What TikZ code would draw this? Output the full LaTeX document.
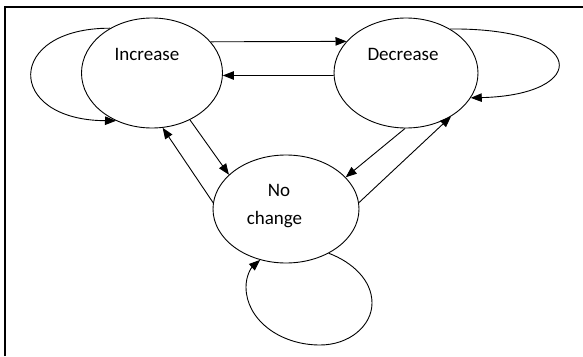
\documentclass[tikz,border=0pt]{standalone}
\usepackage{fontspec}
\setmainfont{Carlito}
\usetikzlibrary{shapes.geometric,arrows.meta}
\begin{document}
\begin{tikzpicture}[x=1pt,y=1pt,
  state/.style={draw,ellipse,line width=0.9pt,inner sep=0pt},
  lbl/.style={anchor=base,inner sep=0pt,font=\fontsize{19}{22}\selectfont},
  conn/.style={line width=0.9pt,-{Triangle[length=11pt,width=8.5pt]}},
  frame/.style={line width=1.5pt}]
\useasboundingbox (0,0) rectangle (583,-356);
\coordinate (fTL) at (5,-7);
\coordinate (fBL) at (5,-356);
\coordinate (fTR) at (583,-7);
\draw[frame] (fBL) -- (fTL) -- (fTR);
\node[state,minimum width=141pt,minimum height=110pt] (inc) at (152,-73) {};
\node[state,minimum width=144pt,minimum height=110pt] (dec) at (406,-73) {};
\node[state,minimum width=146pt,minimum height=108pt] (nc) at (286,-209) {};
\node[lbl] (tinc) at (147,-60) {Increase};
\node[lbl] (tdec) at (403,-60) {Decrease};
\node[lbl] (tno) at (279,-196) {No};
\node[lbl] (tch) at (274.5,-224) {change};
% between states
\draw[conn] (inc.28) -- (dec.152);
\draw[conn] (dec.182) -- (inc.358);
\draw[conn] (inc.-51) -- (nc.149);
\draw[conn] (nc.175) -- (inc.-79);
\draw[conn] (dec.-91) -- (nc.28);
\draw[conn] (nc.5) -- (dec.-44);
% self loops
\draw[conn] (inc.133) .. controls (5,-28) and (5,-120) .. (inc.233);
\draw[conn] (dec.45) .. controls (590,-28) and (590,-95) .. (dec.-21);
\coordinate (ncR) at (372,-303);
\coordinate (ncB) at (320,-345);
\coordinate (ncL) at (246,-287);
\draw[conn] (nc.-46) .. controls (352,-262) and (372,-280) .. (ncR)
  .. controls (372,-326) and (349,-345) .. (ncB)
  .. controls (279,-345) and (246,-319) .. (ncL)
  .. controls (246,-276) and (251,-268) .. (nc.-117);
\end{tikzpicture}
\end{document}
